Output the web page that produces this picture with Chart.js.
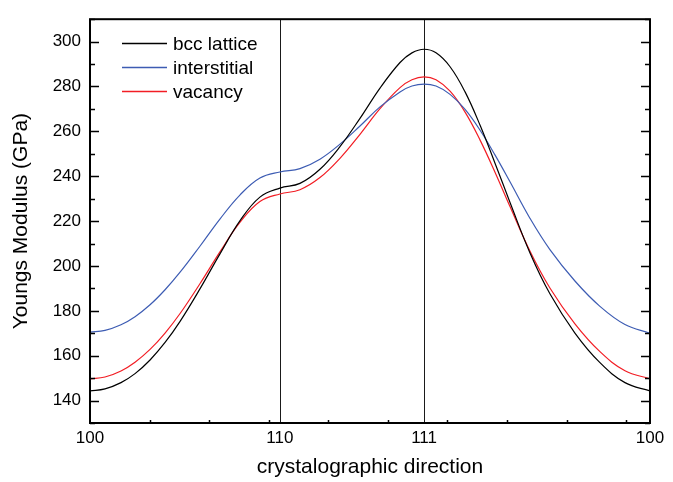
<!DOCTYPE html>
<html>
  <head>
    <meta charset="utf-8">
    <script src="https://cdn.jsdelivr.net/npm/chart.js@4.4.1/dist/chart.umd.min.js"></script>
  </head>

  <style>
    html, body {
        margin: 0;
        padding: 0;
        background-color: white;
    }
    .chart {
        width: 673px;
        height: 482px;
    }
  </style>

  <body>
    <div class="chart"><canvas id="line-modulus"></canvas></div>

<script>

  // position along the path 100 -> 110 -> 111 -> 100 (axis units, minor tick every 0.25)
  var pathX = [0, 0.063, 0.130, 0.189, 0.252, 0.315, 0.378, 0.462, 0.546, 0.629, 0.713, 0.797,
               0.881, 0.965, 1.049, 1.133, 1.217, 1.301, 1.351, 1.402, 1.452, 1.511, 1.574, 1.637,
               1.700, 1.763, 1.846, 1.930, 2.035, 2.140, 2.245, 2.35];

  var bccValues = [144.3, 145.2, 148.0, 152.0, 158.1, 165.9, 175.3, 189.9, 205.5, 220.1, 230.7, 234.7,
                   236.8, 243.1, 253.2, 265.8, 279.3, 290.7, 295.0, 296.6, 295.0, 288.8, 277.6, 262.7,
                   245.7, 228.2, 205.9, 187.6, 170.1, 156.9, 148.0, 144.3];
  var interstitialValues = [170.5, 171.3, 173.8, 177.4, 182.7, 189.4, 197.2, 208.9, 221.0, 231.6, 239.2, 241.9,
                            243.4, 247.6, 254.3, 262.4, 270.9, 277.6, 280.2, 281.1, 280.2, 276.5, 269.8, 260.5,
                            249.4, 237.4, 221.3, 207.3, 193.3, 182.0, 173.9, 170];
  var vacancyValues = [149.7, 150.5, 153.2, 157.1, 162.8, 170.1, 178.8, 192.2, 206.4, 219.4, 228.7, 232.1,
                       234.0, 239.4, 248.0, 258.7, 270.1, 279.5, 283.0, 284.3, 283.0, 277.9, 268.6, 256.1,
                       241.7, 226.4, 206.7, 190.2, 174.2, 161.8, 153.3, 149.7];

  var seriesNames = ["bcc lattice", "interstitial", "vacancy"];
  var seriesColors = ["#000000", "#3d5cb3", "#f21d24"];

  var xTickPos = [0, 0.797, 1.402, 2.35];
  var xTickLabels = ["100", "110", "111", "100"];
  var yTickValues = [140, 160, 180, 200, 220, 240, 260, 280, 300];

  var fontName = "'Liberation Sans', Arial, sans-serif";

  function toPoints(values) {
      var pts = [];
      for (var i = 0; i < values.length; i++) {
          pts.push({ x: pathX[i], y: values[i] });
      }
      return pts;
  }

  // frame, inward ticks, the 110 / 111 marker lines and the legend
  var decorations = {
      id: 'decorations',
      beforeDatasetsDraw: function(chart) {
          var ctx = chart.ctx;
          var a = chart.chartArea;
          var xs = chart.scales.x;
          ctx.save();
          ctx.strokeStyle = "#1a1a1a";
          ctx.lineWidth = 1;
          for (var i = 1; i < xTickPos.length - 1; i++) {
              var px = Math.round(xs.getPixelForValue(xTickPos[i])) + 0.5;
              ctx.beginPath();
              ctx.moveTo(px, a.top);
              ctx.lineTo(px, a.bottom);
              ctx.stroke();
          }
          ctx.restore();
      },
      afterDraw: function(chart) {
          var ctx = chart.ctx;
          var a = chart.chartArea;
          var xs = chart.scales.x;
          var ys = chart.scales.y;
          ctx.save();
          ctx.strokeStyle = "#000";
          ctx.lineWidth = 1.5;
          ctx.beginPath();
          for (var v = 130; v <= 310; v += 10) {
              var py = Math.round(ys.getPixelForValue(v)) + 0.5;
              var len = (v % 20 == 0) ? 9 : 5;
              ctx.moveTo(a.left, py); ctx.lineTo(a.left + len, py);
              ctx.moveTo(a.right, py); ctx.lineTo(a.right - len, py);
          }
          for (var t = 0.25; t < 2.35; t += 0.25) {
              var px = Math.round(xs.getPixelForValue(t)) + 0.5;
              ctx.moveTo(px, a.bottom); ctx.lineTo(px, a.bottom - 3);
          }
          ctx.stroke();

          ctx.lineWidth = 2;
          ctx.strokeRect(a.left, a.top, a.right - a.left, a.bottom - a.top);

          // legend
          ctx.font = "19px " + fontName;
          ctx.textBaseline = "middle";
          for (var i = 0; i < seriesNames.length; i++) {
              var ly = 43.5 + i * 24;
              ctx.strokeStyle = seriesColors[i];
              ctx.lineWidth = 1.3;
              ctx.beginPath();
              ctx.moveTo(122, ly);
              ctx.lineTo(167, ly);
              ctx.stroke();
              ctx.fillStyle = "#000";
              ctx.fillText(seriesNames[i], 173, ly + 1);
          }
          ctx.restore();
      }
  };

  var datasets = [];
  var allValues = [bccValues, interstitialValues, vacancyValues];
  for (var k = 0; k < allValues.length; k++) {
      datasets.push({
          label: seriesNames[k],
          data: toPoints(allValues[k]),
          borderColor: seriesColors[k],
          borderWidth: 1.2,
          pointRadius: 0,
          fill: false,
          showLine: true,
          tension: 0.4
      });
  }

  new Chart(document.getElementById("line-modulus"), {
      type: 'scatter',
      data: { datasets: datasets },
      plugins: [decorations],
      options: {
          responsive: true,
          maintainAspectRatio: false,
          animation: false,
          layout: { padding: { top: 10, right: 23, left: 0, bottom: 0 } },
          plugins: {
              legend: { display: false },
              tooltip: { enabled: false }
          },
          scales: {
              x: {
                  type: 'linear',
                  min: 0,
                  max: 2.35,
                  grid: { display: false, drawTicks: false },
                  border: { display: false },
                  afterBuildTicks: function(scale) {
                      scale.ticks = xTickPos.map(function(v) { return { value: v }; });
                  },
                  afterFit: function(scale) { scale.height = 59; },
                  ticks: {
                      autoSkip: false,
                      maxRotation: 0,
                      padding: 5,
                      color: "#000",
                      font: { family: fontName, size: 17 },
                      callback: function(value, index) { return xTickLabels[index]; }
                  },
                  title: {
                      display: true,
                      text: "crystalographic direction",
                      color: "#000",
                      padding: { top: 2, bottom: 2 },
                      font: { family: fontName, size: 21 }
                  }
              },
              y: {
                  min: 130,
                  max: 310,
                  grid: { display: false, drawTicks: false },
                  border: { display: false },
                  afterBuildTicks: function(scale) {
                      scale.ticks = yTickValues.map(function(v) { return { value: v }; });
                  },
                  afterFit: function(scale) { scale.width = 90; },
                  ticks: {
                      padding: 9,
                      color: "#000",
                      font: { family: fontName, size: 17 }
                  },
                  title: {
                      display: true,
                      text: "Youngs Modulus (GPa)",
                      color: "#000",
                      padding: { top: 9, bottom: 0 },
                      font: { family: fontName, size: 21 }
                  }
              }
          }
      }
  });

</script>

</body>
</html>
